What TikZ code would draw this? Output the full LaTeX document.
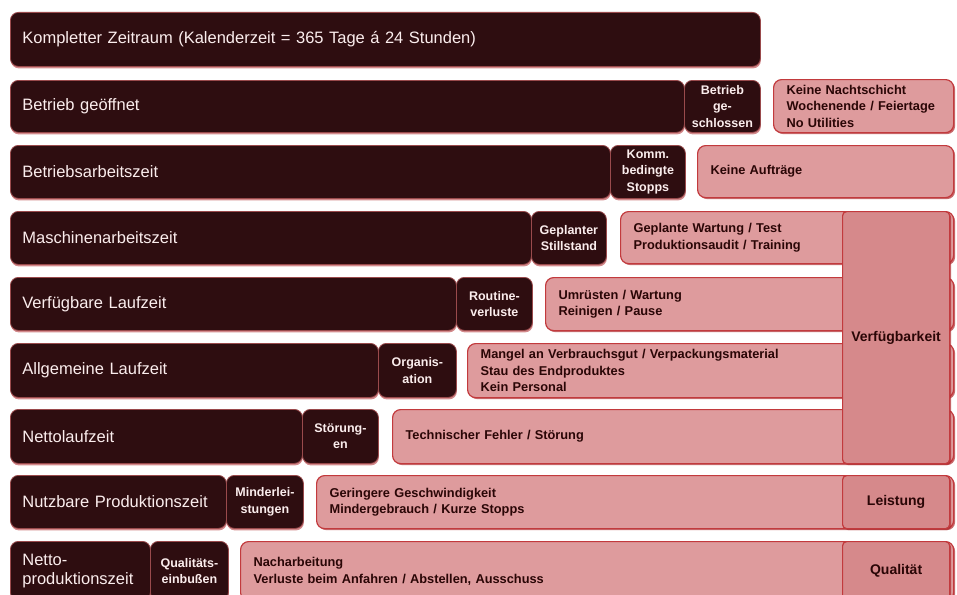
\documentclass[tikz,border=0pt]{standalone}
\usepackage{fontspec}
\setmainfont{Liberation Sans}
\usetikzlibrary{shadows}
\definecolor{darkfill}{HTML}{2E0D10}
\definecolor{darkedge}{HTML}{9A4A4C}
\definecolor{pinkfill}{HTML}{DE9B9D}
\definecolor{pinkedge}{HTML}{C23A3D}
\definecolor{colfill}{HTML}{D6898B}
\definecolor{shadowred}{HTML}{B02A2E}
\definecolor{pinktext}{HTML}{2A0606}
\definecolor{lighttext}{HTML}{FBEDED}
\tikzset{
  darkbox/.style={draw=darkedge, line width=0.8pt, fill=darkfill, rounded corners=8pt, text=lighttext,
    drop shadow={shadow xshift=0.5pt, shadow yshift=-2pt, fill=shadowred, opacity=0.55}},
  mainlabel/.style={darkbox, align=left, font=\fontsize{16.5}{19}\selectfont},
  lossbox/.style={darkbox, align=center, font=\bfseries\fontsize{12.5}{16.5}\selectfont},
  pinkbox/.style={draw=pinkedge, line width=1.2pt, fill=pinkfill, rounded corners=8pt, text=pinktext,
    align=left, font=\bfseries\fontsize{12.8}{16.5}\selectfont,
    drop shadow={shadow xshift=1.5pt, shadow yshift=-1.5pt, fill=shadowred, opacity=0.7}},
  catbox/.style={draw=pinkedge, line width=1.2pt, fill=colfill, rounded corners=4pt, text=pinktext,
    align=center, font=\bfseries\fontsize{14}{17}\selectfont,
    drop shadow={shadow xshift=1.5pt, shadow yshift=-1.5pt, fill=shadowred, opacity=0.7}},
}
% style, name, x1, y1, x2, y2, xsep, text
\newcommand\boxat[8]{%
  \pgfmathsetmacro\bw{#5-#3}\pgfmathsetmacro\bh{#6-#4}\pgfmathsetmacro\tw{#5-#3-2*#7}%
  \node[#1, inner xsep=#7pt, inner ysep=0pt, anchor=north west, minimum width=\bw pt,
    minimum height=\bh pt, text width=\tw pt] (#2) at (#3,#4) {#8};%
}
\begin{document}
\begin{tikzpicture}[x=1pt, y=-1pt]
\useasboundingbox[fill=white] (0,0) rectangle (957,594);
% row 0
\boxat{mainlabel}{r0}{10}{12}{760}{66}{12}{Kompletter Zeitraum (Kalenderzeit = 365 Tage á 24 Stunden)}
% row 1
\boxat{mainlabel}{r1}{10}{80}{684}{132}{12}{Betrieb geöffnet}
\boxat{lossbox}{l1}{684}{80}{760}{132}{1}{Betrieb\\ge-\\schlossen}
\boxat{pinkbox}{p1}{773}{79}{953}{132}{13}{Keine Nachtschicht\\Wochenende / Feiertage\\No Utilities}
% row 2
\boxat{mainlabel}{r2}{10}{145}{610}{198}{12}{Betriebsarbeitszeit}
\boxat{lossbox}{l2}{610}{145}{685}{198}{1}{Komm.\\bedingte\\Stopps}
\boxat{pinkbox}{p2}{697}{145}{953}{197}{13}{Keine Aufträge}
% row 3
\boxat{mainlabel}{r3}{10}{211}{531}{264}{12}{Maschinenarbeitszeit}
\boxat{lossbox}{l3}{531}{211}{606}{264}{1}{Geplanter\\Stillstand}
\boxat{pinkbox}{p3}{620}{211}{953}{263}{13}{Geplante Wartung / Test\\Produktionsaudit / Training}
% row 4
\boxat{mainlabel}{r4}{10}{277}{456}{330}{12}{Verfügbare Laufzeit}
\boxat{lossbox}{l4}{456}{277}{532}{330}{1}{Routine-\\verluste}
\boxat{pinkbox}{p4}{545}{277}{953}{330}{13}{Umrüsten / Wartung\\Reinigen / Pause}
% row 5
\boxat{mainlabel}{r5}{10}{343}{378}{397}{12}{Allgemeine Laufzeit}
\boxat{lossbox}{l5}{378}{343}{456}{397}{1}{Organis-\\ation}
\boxat{pinkbox}{p5}{467}{343}{953}{397}{13}{Mangel an Verbrauchsgut / Verpackungsmaterial\\Stau des Endproduktes\\Kein Personal}
% row 6
\boxat{mainlabel}{r6}{10}{409}{302}{463}{12}{Nettolaufzeit}
\boxat{lossbox}{l6}{302}{409}{378}{463}{1}{Störung-\\en}
\boxat{pinkbox}{p6}{392}{409}{953}{463}{13}{Technischer Fehler / Störung}
% row 7
\boxat{mainlabel}{r7}{10}{475}{226}{528}{12}{Nutzbare Produktionszeit}
\boxat{lossbox}{l7}{226}{475}{303}{528}{1}{Minderlei-\\stungen}
\boxat{pinkbox}{p7}{316}{475}{953}{528}{13}{Geringere Geschwindigkeit\\Mindergebrauch / Kurze Stopps}
% row 8
\boxat{mainlabel}{r8}{10}{541}{150}{600}{12}{Netto-\\produktionszeit}
\boxat{lossbox}{l8}{150}{541}{228}{600}{1}{Qualitäts-\\einbußen}
\boxat{pinkbox}{p8}{240}{541}{953}{600}{13}{Nacharbeitung\\Verluste beim Anfahren / Abstellen, Ausschuss}
% categories
\boxat{catbox}{c1}{842}{211}{949}{463}{2}{Verfügbarkeit}
\boxat{catbox}{c2}{842}{475}{949}{528}{2}{Leistung}
\boxat{catbox}{c3}{842}{541}{949}{600}{2}{Qualität}
\end{tikzpicture}
\end{document}
